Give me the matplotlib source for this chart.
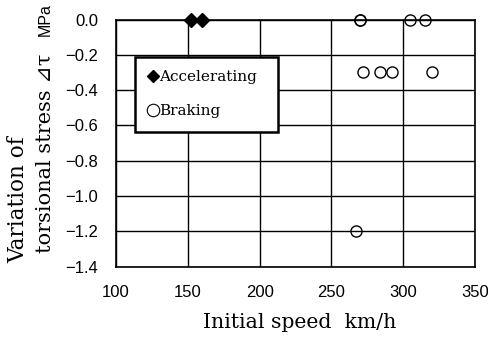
import matplotlib
matplotlib.use('Agg')
import matplotlib.pyplot as plt
from matplotlib.lines import Line2D

# initial speed (km/h) and variation of torsional stress (MPa)
acc_speed = [152, 160]
acc_dtau = [0.0, 0.0]

brk_speed = [270, 270, 305, 315, 272, 284, 292, 320, 267]
brk_dtau = [0.0, 0.0, 0.0, 0.0, -0.3, -0.3, -0.3, -0.3, -1.2]

xticks = [100, 150, 200, 250, 300, 350]
yticks = [0.0, -0.2, -0.4, -0.6, -0.8, -1.0, -1.2, -1.4]

serif = ['DejaVu Serif', 'DejaVu Sans', 'Noto Sans CJK JP']

W, H = 488, 338
fig = plt.figure(figsize=(W / 100, H / 100), dpi=100)
ax = fig.add_axes([0.2377, 0.211, 0.7357, 0.7312])

ax.set_xlim(100, 350)
ax.set_ylim(-1.4, 0.0)
ax.set_xticks(xticks)
ax.set_yticks(yticks)
ax.set_xticklabels([str(v) for v in xticks])
ax.set_yticklabels(['%.1f' % v if v == 0 else '\u2212%.1f' % abs(v) for v in yticks])
ax.tick_params(length=0, pad=13, labelsize=12)
for lab in ax.get_xticklabels() + ax.get_yticklabels():
    lab.set_family('Liberation Sans')

ax.grid(True, color='black', linewidth=1.0)
ax.set_axisbelow(True)
for s in ax.spines.values():
    s.set_linewidth(1.2)

ax.plot(acc_speed, acc_dtau, linestyle='none', marker='D', markersize=7,
        color='black', clip_on=False, zorder=5)
ax.plot(brk_speed, brk_dtau, linestyle='none', marker='o', markersize=8,
        markerfacecolor='none', markeredgecolor='black', markeredgewidth=1.0,
        clip_on=False, zorder=5)

handles = [
    Line2D([], [], linestyle='none', marker='D', markersize=6, color='black'),
    Line2D([], [], linestyle='none', marker='o', markersize=9,
           markerfacecolor='none', markeredgecolor='black', markeredgewidth=0.8),
]
leg = ax.legend(handles, ['Accelerating', 'Braking'], loc='upper left',
                bbox_to_anchor=(0.053, 0.55, 0.399, 0.2995), mode='expand',
                prop={'family': serif, 'size': 11}, handlelength=0.6,
                handletextpad=0.1, labelspacing=1.3, borderpad=0.9,
                borderaxespad=0, fancybox=False, framealpha=1,
                edgecolor='black')
leg.get_frame().set_linewidth(1.8)
leg.set_zorder(10)

# x axis title
fig.text(300 / W, 1 - 322 / H, 'Initial speed  km/h', ha='center', va='center',
         family=serif, fontsize=14.7)

# y axis title, two lines
fig.text(18 / W, 1 - 263 / H, 'Variation of', rotation=90, ha='center',
         va='bottom', family=serif, fontsize=15.5)
fig.text(45 / W, 1 - 253 / H, 'torsional stress \u22bf\u03c4', rotation=90,
         ha='center', va='bottom', family=serif, fontsize=15)
fig.text(45 / W, 1 - 20 / H, 'MPa', rotation=90, ha='center', va='center',
         family='Liberation Sans', fontsize=11.5)

fig.savefig('out.png', dpi=100)
